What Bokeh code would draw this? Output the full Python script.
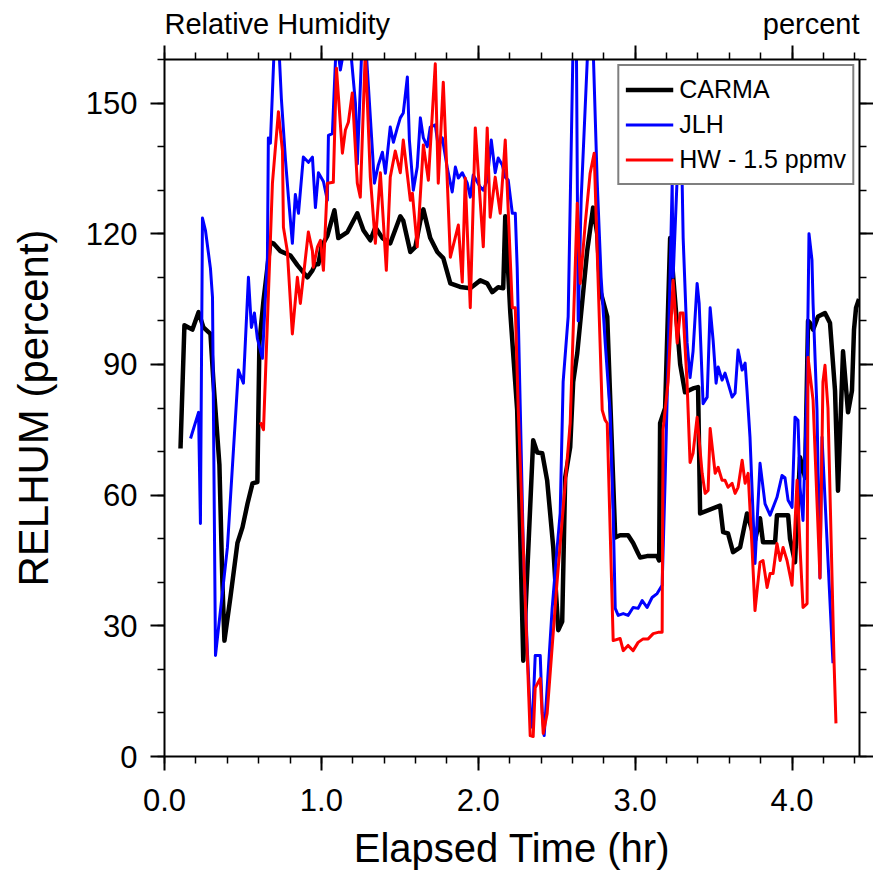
from bokeh.plotting import figure
from bokeh.models import (Range1d, LinearAxis, SingleIntervalTicker, FixedTicker,
                          PrintfTickFormatter, Legend, LegendItem)
from bokeh.embed import file_html
from bokeh.resources import INLINE

FONT = "Liberation Sans"

# ---------------- data (elapsed time in hr, relative humidity in percent) ----------------
carma_t = [0.102, 0.127, 0.153, 0.178, 0.217, 0.248, 0.293, 0.312, 0.350, 0.369,
           0.382, 0.420, 0.465, 0.497, 0.529, 0.561, 0.592, 0.605, 0.631, 0.675,
           0.694, 0.739, 0.803, 0.847, 0.911, 0.943, 0.962, 0.981, 1.000, 1.038,
           1.083, 1.108, 1.166, 1.204, 1.229, 1.268, 1.312, 1.344, 1.389, 1.439,
           1.503, 1.522, 1.567, 1.599, 1.631, 1.650, 1.694, 1.739, 1.777, 1.822,
           1.885, 1.949, 2.013, 2.057, 2.089, 2.127, 2.159, 2.172, 2.204, 2.248,
           2.287, 2.350, 2.376, 2.408, 2.439, 2.478, 2.510, 2.535, 2.554, 2.586,
           2.605, 2.631, 2.694, 2.732, 2.758, 2.777, 2.822, 2.873, 2.904, 2.955,
           2.987, 3.019, 3.032, 3.076, 3.140, 3.153, 3.159, 3.191, 3.223, 3.287,
           3.318, 3.369, 3.401, 3.414, 3.541, 3.561, 3.592, 3.624, 3.669, 3.713,
           3.764, 3.796, 3.815, 3.892, 3.904, 3.975, 3.987, 4.019, 4.032, 4.051,
           4.083, 4.102, 4.115, 4.134, 4.166, 4.210, 4.242, 4.274, 4.293, 4.325,
           4.357, 4.382, 4.395, 4.408, 4.427]
carma_v = [70.7, 99, 98.5, 98, 102, 98.5, 97, 86, 67, 40,
           26.6, 36.5, 49, 52.6, 58, 62.7, 63, 95, 104.7, 118,
           117.8, 116, 115, 112.8, 110, 111.6, 113, 113, 117, 119.5,
           125.4, 119, 120.4, 123, 124.7, 120.8, 118.5, 121.5, 119, 117.8,
           124, 123, 115.8, 117, 123, 125.6, 119, 115.8, 114.4, 108.6,
           107.8, 107.5, 109.3, 108.6, 106.6, 107.7, 107.5, 124, 102, 79.5,
           22, 72.6, 69.8, 69.6, 63.4, 48, 29, 31, 64, 71,
           86, 92.6, 116, 126, 120, 107, 101, 50.3, 50.8, 50.8,
           49, 46.6, 45.7, 46, 46, 45, 76.5, 80, 119, 90,
           83.6, 84.5, 84.8, 55.8, 57.6, 51.5, 51.2, 46.9, 48, 55.8,
           49.6, 54.7, 49.2, 49.2, 55.4, 55.4, 50, 44.6, 54.2, 68.7,
           64, 100, 99.5, 98, 101, 101.8, 99.5, 84, 61, 93,
           79, 84, 98, 103, 105]

jlh_t = [0.166, 0.217, 0.229, 0.242, 0.261, 0.293, 0.306, 0.325, 0.401, 0.471,
         0.503, 0.535, 0.554, 0.573, 0.592, 0.624, 0.656, 0.662, 0.675, 0.713,
         0.745, 0.771, 0.790, 0.815, 0.834, 0.854, 0.885, 0.917, 0.943, 0.962,
         0.981, 1.013, 1.038, 1.045, 1.070, 1.096, 1.121, 1.172, 1.217, 1.229,
         1.268, 1.312, 1.338, 1.363, 1.389, 1.408, 1.439, 1.459, 1.484, 1.503,
         1.522, 1.548, 1.561, 1.586, 1.611, 1.631, 1.650, 1.675, 1.694, 1.726,
         1.745, 1.771, 1.803, 1.834, 1.854, 1.873, 1.898, 1.930, 1.949, 1.968,
         2.013, 2.032, 2.057, 2.083, 2.108, 2.127, 2.153, 2.172, 2.191, 2.217,
         2.236, 2.248, 2.268, 2.287, 2.312, 2.331, 2.344, 2.363, 2.395, 2.408,
         2.420, 2.471, 2.503, 2.522, 2.541, 2.573, 2.605, 2.624, 2.637, 2.656,
         2.701, 2.726, 2.758, 2.783, 2.809, 2.841, 2.860, 2.873, 2.892, 2.924,
         2.955, 2.987, 3.019, 3.045, 3.076, 3.108, 3.140, 3.172, 3.191, 3.210,
         3.236, 3.242, 3.268, 3.274, 3.299, 3.306, 3.331, 3.350, 3.369, 3.395,
         3.408, 3.433, 3.459, 3.478, 3.497, 3.516, 3.529, 3.554, 3.573, 3.592,
         3.618, 3.637, 3.656, 3.682, 3.701, 3.713, 3.732, 3.764, 3.796, 3.828,
         3.860, 3.904, 3.936, 3.955, 3.975, 4.000, 4.019, 4.038, 4.051, 4.070,
         4.096, 4.108, 4.127, 4.134, 4.159, 4.178, 4.191, 4.261]
jlh_v = [73, 79, 53.5, 123.6, 120.8, 112, 105.4, 23.2, 48, 88.7,
         85.7, 110, 98.5, 101.8, 96, 91.4, 114.6, 142, 140.8, 175,
         151, 137, 128.4, 117.8, 129, 124.7, 137.6, 136.4, 137.6, 126,
         134, 132, 127.7, 142.6, 143, 165, 157.6, 168, 150, 136,
         172, 146.8, 131.6, 135.8, 138.7, 133.9, 144.5, 141, 144.3, 146.6,
         147.7, 156, 141.5, 130, 135.3, 146.6, 142, 140, 144.5, 145,
         140, 142, 135, 129.6, 135.3, 132.8, 134, 131.6, 128.4, 133.5,
         130.7, 130, 132.3, 141.5, 134, 137.4, 135.8, 133, 132.3, 124.7,
         124.7, 112.3, 79.5, 48, 25, 10, 6.7, 23.2, 23.2, 10,
         4.8, 34, 48, 55.8, 86, 101, 165, 172, 100, 128,
         165, 170, 132, 110, 95, 78.8, 55.8, 34, 32.4, 32.8,
         32.4, 34.2, 34, 35.8, 34.2, 36.5, 37.4, 39.3, 63.4, 91,
         131.6, 110, 133, 157, 133, 119, 95, 87, 93, 108.6,
         104, 81, 82.5, 103, 95.5, 85.7, 89.4, 86.4, 88, 85.7,
         82.5, 83.4, 93.3, 88.7, 90.3, 84, 73.3, 44.3, 67.3, 58,
         55.4, 59.5, 64.5, 64, 58.8, 57.2, 77.9, 77.2, 61.8, 54.2,
         86, 120, 114, 104, 79.5, 41, 73.3, 21.4]

hw_t = [0.611, 0.631, 0.688, 0.726, 0.752, 0.758, 0.783, 0.815, 0.847, 0.866,
        0.917, 0.943, 0.949, 0.975, 0.994, 1.013, 1.038, 1.076, 1.096, 1.134,
        1.153, 1.172, 1.197, 1.229, 1.248, 1.280, 1.312, 1.344, 1.376, 1.414,
        1.439, 1.471, 1.503, 1.522, 1.567, 1.580, 1.611, 1.650, 1.682, 1.726,
        1.745, 1.777, 1.822, 1.873, 1.898, 1.917, 1.949, 1.981, 2.032, 2.057,
        2.076, 2.108, 2.140, 2.172, 2.217, 2.236, 2.255, 2.331, 2.350, 2.363,
        2.395, 2.414, 2.439, 2.503, 2.586, 2.631, 2.650, 2.682, 2.713, 2.739,
        2.758, 2.790, 2.809, 2.822, 2.860, 2.904, 2.924, 2.955, 2.987, 3.019,
        3.051, 3.083, 3.115, 3.146, 3.172, 3.178, 3.210, 3.242, 3.268, 3.287,
        3.306, 3.331, 3.350, 3.369, 3.395, 3.427, 3.446, 3.465, 3.478, 3.510,
        3.529, 3.554, 3.573, 3.592, 3.618, 3.637, 3.656, 3.682, 3.701, 3.720,
        3.745, 3.764, 3.796, 3.815, 3.841, 3.860, 3.879, 3.904, 3.924, 3.943,
        3.968, 4.000, 4.032, 4.051, 4.070, 4.096, 4.102, 4.134, 4.178, 4.197,
        4.210, 4.229, 4.268, 4.280]
hw_v = [76.7, 75, 131.6, 148, 139, 121.5, 116, 97, 110, 104,
        120.4, 116, 112.3, 117, 118.5, 111.6, 131.6, 131.8, 158, 138.5,
        143.8, 145.6, 152.3, 131.6, 128.4, 162, 133, 117.8, 134, 111.6,
        133, 139, 134, 141.5, 127.7, 129.3, 117, 140.4, 132.3, 159,
        131.6, 154.8, 114.6, 122, 108.9, 132.8, 103, 144.3, 117, 144.3,
        123.8, 133, 124.7, 141.5, 103, 103, 79.5, 4.8, 4.6, 15.8,
        17.9, 5.3, 9.9, 40.4, 76.5, 127, 108.6, 122.4, 133.9, 138.5,
        116, 79.5, 77.2, 76.5, 26.6, 27.1, 24.3, 25.5, 24.3, 26.2,
        27, 27, 28.2, 28.5, 28.5, 75, 86, 109.3, 94.9, 101.8,
        101.8, 85.7, 67.5, 69.6, 77.9, 65, 60.4, 61.1, 75.3, 65,
        66.4, 63.4, 63.4, 61.8, 62.7, 60.4, 61.8, 68, 62.7, 65,
        48, 33.5, 44.6, 45, 38.8, 42, 42, 48.9, 45, 48,
        45, 39.3, 63.4, 48, 34.2, 35.1, 91.6, 81.8, 41, 86,
        89.8, 80, 21.4, 7.6]

series_names = ["CARMA", "JLH", "HW - 1.5 ppmv"]
header_left = "Relative Humidity"
header_right = "percent"
x_major = 1.0
y_major = 30
x_start, x_end = 0.0, 4.43
y_start, y_end = 0, 160

# ---------------- figure ----------------
p = figure(width=873, height=882,
           x_range=Range1d(x_start, x_end), y_range=Range1d(y_start, y_end),
           output_backend="svg", toolbar_location=None,
           x_axis_location=None, y_axis_location=None,
           min_border_left=164, min_border_right=14,
           min_border_top=59, min_border_bottom=126)
p.outline_line_color = None
p.background_fill_color = "white"
p.border_fill_color = "white"


def style_axis(ax, tick_out=14, minor_out=7):
    ax.axis_line_width = 2
    ax.axis_line_color = "black"
    ax.major_tick_line_width = 2
    ax.minor_tick_line_width = 1.5
    ax.major_tick_line_color = "black"
    ax.minor_tick_line_color = "black"
    ax.major_tick_in = 0
    ax.minor_tick_in = 0
    ax.major_tick_out = tick_out
    ax.minor_tick_out = minor_out
    ax.major_label_text_font = FONT
    ax.major_label_text_color = "black"
    ax.axis_label_text_font = FONT
    ax.axis_label_text_font_style = "normal"
    ax.axis_label_text_color = "black"


def hide_labels(ax):
    ax.major_label_text_font_size = "1px"
    ax.major_label_text_color = None
    ax.major_label_standoff = 0


xb = LinearAxis(ticker=SingleIntervalTicker(interval=x_major, num_minor_ticks=5),
                formatter=PrintfTickFormatter(format="%.1f"),
                axis_label="Elapsed Time (hr)")
style_axis(xb)
xb.major_label_text_font_size = "31px"
xb.axis_label_text_font_size = "40px"
xb.major_label_standoff = 18
xb.axis_label_standoff = 12
p.add_layout(xb, "below")

yl = LinearAxis(ticker=SingleIntervalTicker(interval=y_major, num_minor_ticks=3),
                axis_label="RELHUM (percent)")
style_axis(yl)
yl.major_label_text_font_size = "31px"
yl.axis_label_text_font_size = "42px"
yl.major_label_standoff = 13
yl.axis_label_standoff = 26
p.add_layout(yl, "left")

xt = LinearAxis(ticker=SingleIntervalTicker(interval=x_major, num_minor_ticks=5))
style_axis(xt)
hide_labels(xt)
p.add_layout(xt, "above")

yr = LinearAxis(ticker=SingleIntervalTicker(interval=y_major, num_minor_ticks=3))
style_axis(yr)
hide_labels(yr)
p.add_layout(yr, "right")

# header line: left and right texts above the top tick marks
px_per_hr = 695 / (x_end - x_start)
head_font_px = 29
left_pos = x_start + 0.5 * 7.779 * head_font_px / px_per_hr
right_pos = x_end - 0.5 * 3.335 * head_font_px / px_per_hr
hdr = LinearAxis(ticker=FixedTicker(ticks=[left_pos, right_pos], minor_ticks=[]),
                 major_label_overrides={left_pos: header_left, right_pos: header_right})
hdr.axis_line_color = None
hdr.major_tick_line_color = None
hdr.minor_tick_line_color = None
hdr.major_tick_in = 0
hdr.major_tick_out = 0
hdr.minor_tick_in = 0
hdr.minor_tick_out = 0
hdr.major_label_standoff = 6
hdr.major_label_text_font = FONT
hdr.major_label_text_font_size = f"{head_font_px}px"
hdr.major_label_text_color = "black"
p.add_layout(hdr, "above")

p.grid.visible = False

# ---------------- lines ----------------
r1 = p.line(carma_t, carma_v, line_color="black", line_width=4.5, line_join="round")
r2 = p.line(jlh_t, jlh_v, line_color="#0000ff", line_width=3, line_join="round")
r3 = p.line(hw_t, hw_v, line_color="#ff0000", line_width=3, line_join="round")

legend = Legend(items=[LegendItem(label=series_names[0], renderers=[r1]),
                       LegendItem(label=series_names[1], renderers=[r2]),
                       LegendItem(label=series_names[2], renderers=[r3])],
                location="top_right", margin=5, padding=6, spacing=0,
                glyph_width=48, glyph_height=35, label_standoff=6,
                label_text_font=FONT, label_text_font_size="25px",
                label_text_color="black",
                border_line_color="black", border_line_width=2,
                background_fill_color="white", background_fill_alpha=1.0)
p.add_layout(legend)

open("out.html", "w").write(file_html(p, INLINE))
